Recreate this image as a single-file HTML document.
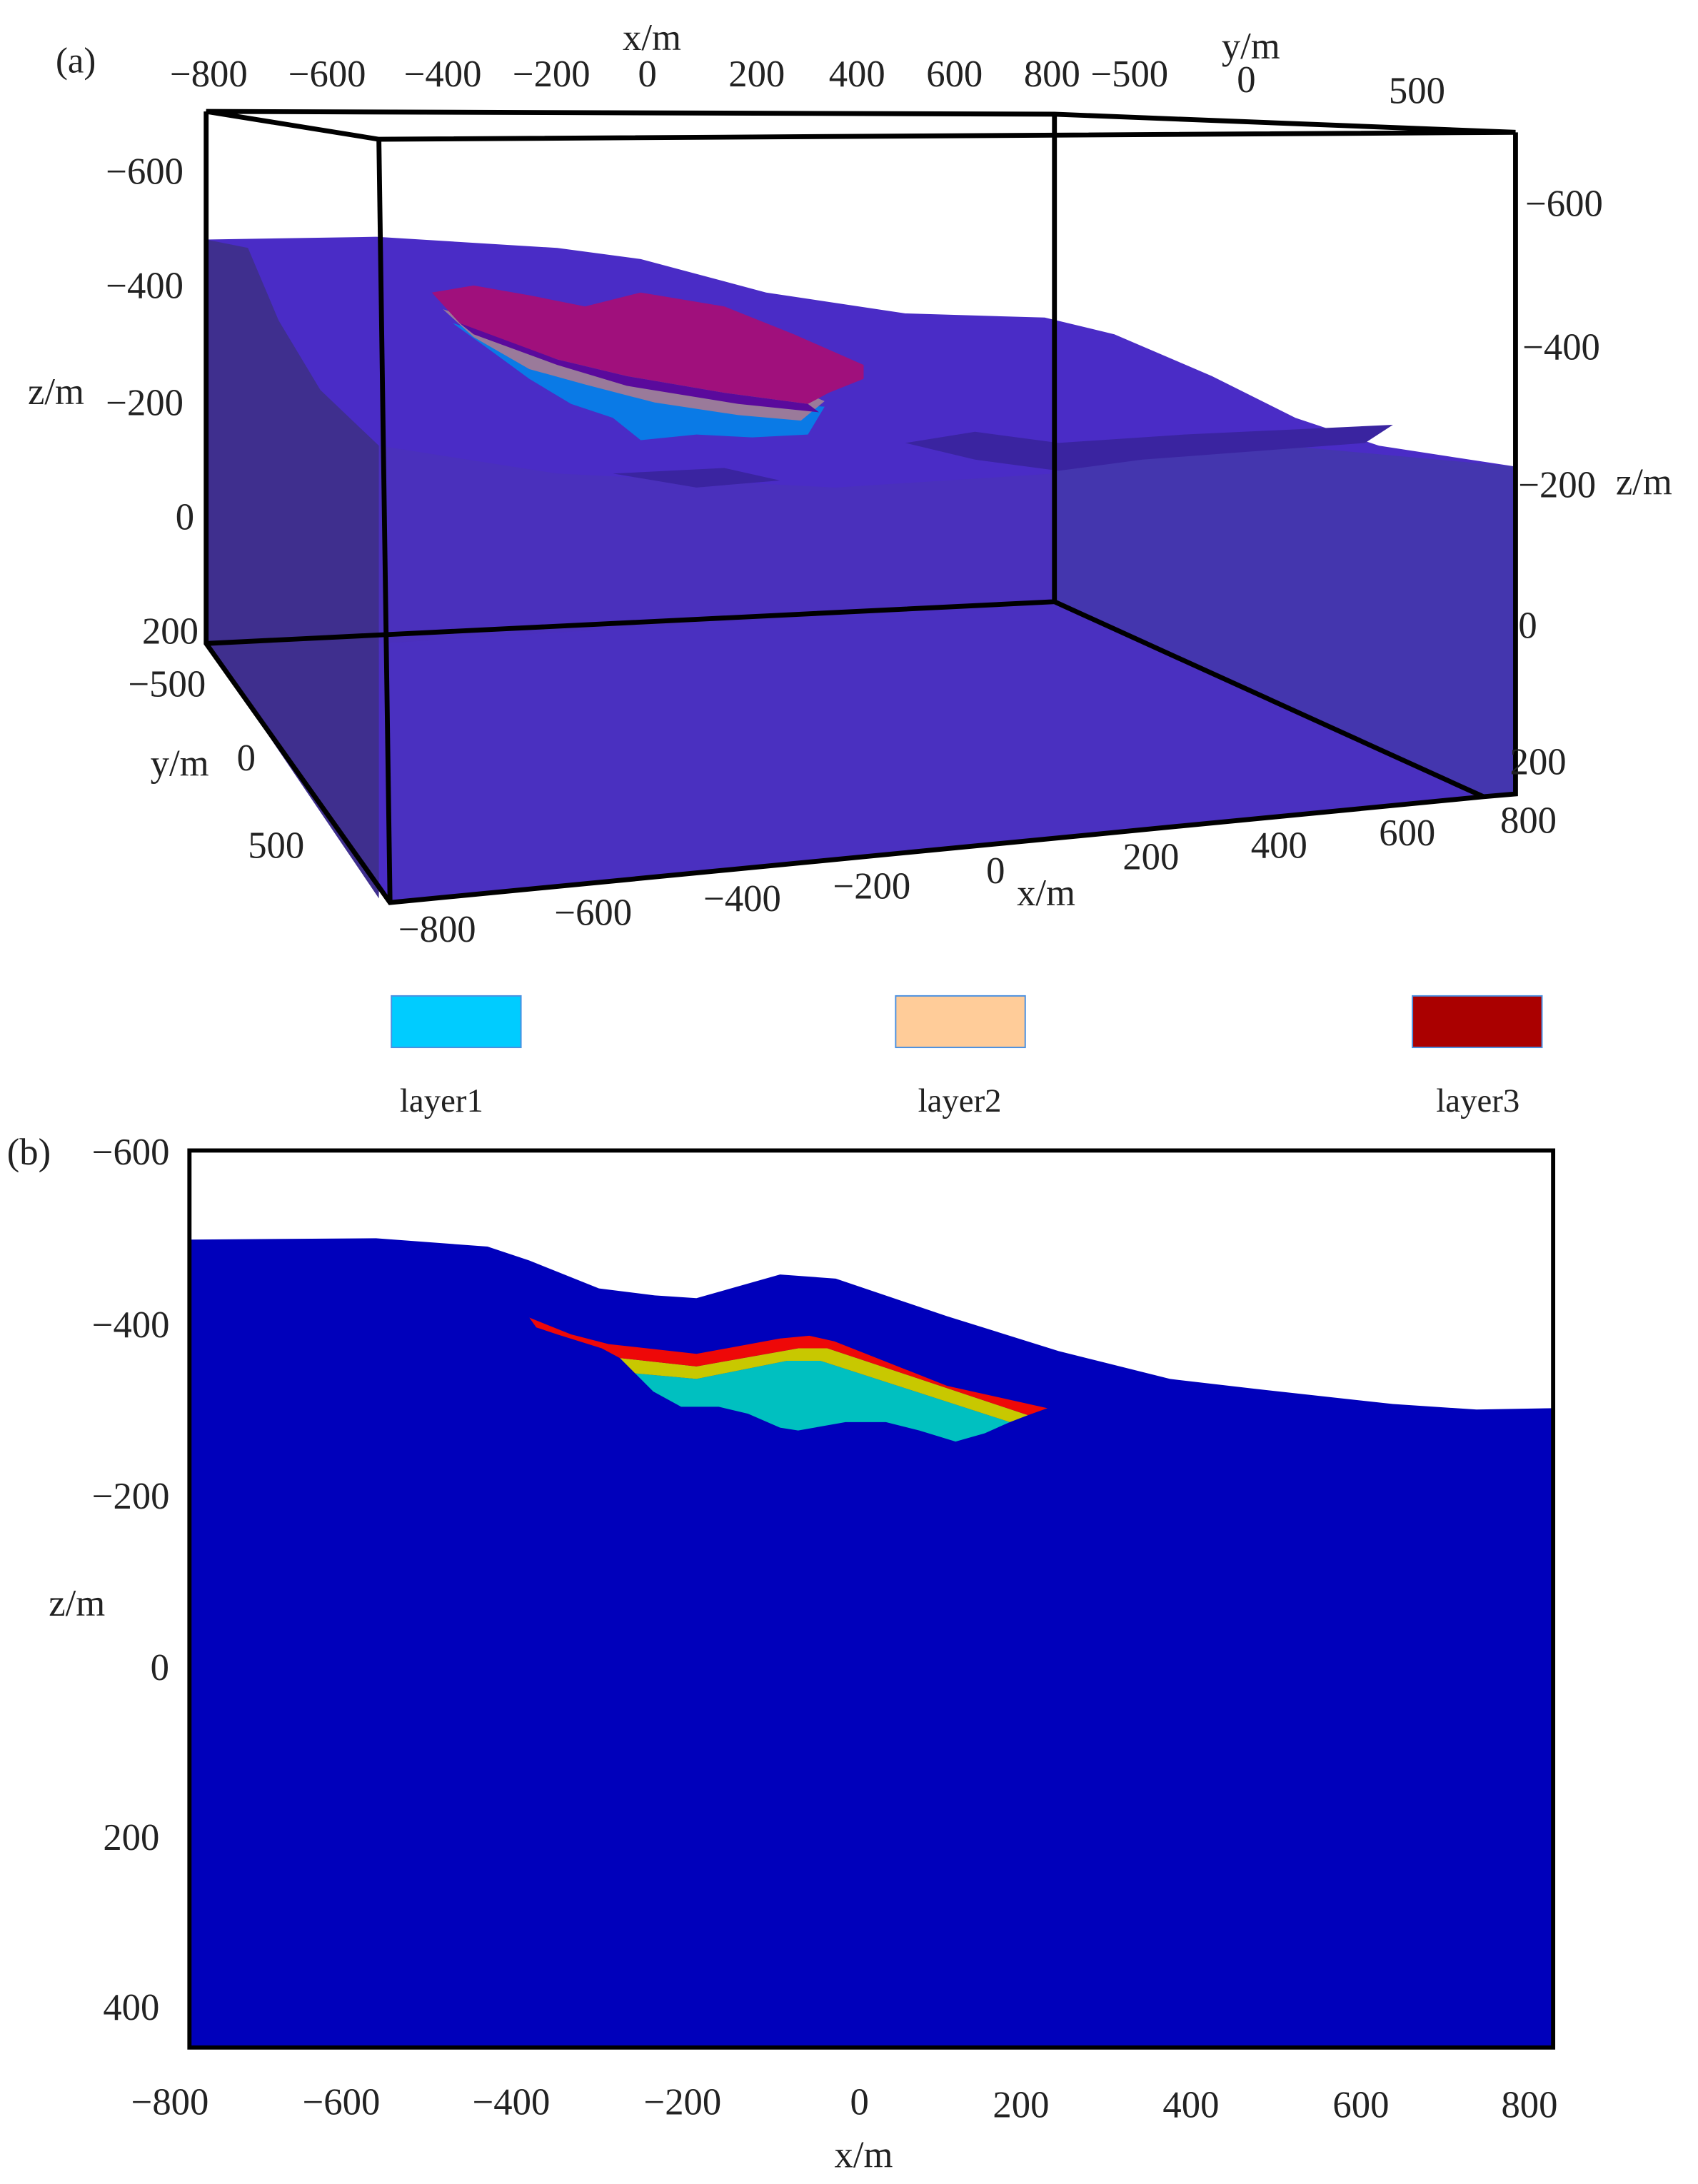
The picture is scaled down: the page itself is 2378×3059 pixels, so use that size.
<!DOCTYPE html>
<html><head><meta charset="utf-8"><style>
html,body{margin:0;padding:0;background:#fff}
svg{display:block}
text{font-family:"Liberation Serif",serif;fill:#222}
</style></head><body>
<svg width="2378" height="3059" viewBox="0 0 1219 1568" preserveAspectRatio="none" xmlns="http://www.w3.org/2000/svg">
<rect width="1219" height="1568" fill="#fff"/>
<!-- (a) -->
<g font-size="27">
<path d="M148,172 L270,170 L400,178 L460,186 L550,210 L650,225 L750,228 L800,240 L870,270 L930,300 L990,320 L1088,335 L1088,570 L1065,572 L280,648 L148,462 Z" fill="#4a2cc6"/>
<path d="M148,172 L178,178 L200,230 L230,280 L272,320 L272,645 L148,462 Z" fill="#3f2f8e"/>
<path d="M757,330 L800,320 L900,318 L1088,335 L1088,570 L1065,572 L757,432 Z" fill="#4436ae"/>
<path d="M272,462 L757,432 L1065,572 L280,648 Z" fill="#4a30c0"/>
<path d="M272,320 L400,340 L500,345 L600,350 L757,340 L757,432 L272,462 Z" fill="#4a30bc"/>
<path d="M650,318 L700,310 L760,318 L850,312 L1000,305 L980,318 L820,330 L760,338 L700,330 Z" fill="#3a24a0"/>
<path d="M440,340 L520,336 L560,345 L500,350 Z" fill="#3a24a0"/>
<path d="M325,232 L350,250 L380,272 L410,290 L440,300 L460,316 L500,312 L540,314 L580,312 L592,292 L560,290 L420,262 Z" fill="#0a7ae6"/>
<path d="M318,222 L340,242 L380,265 L420,276 L470,289 L530,298 L575,302 L592,288 L580,283 L480,272 L420,256 Z" fill="#9a7a9a"/>
<path d="M310,210 L340,205 L380,212 L420,220 L460,210 L520,220 L570,240 L620,262 L620,272 L595,282 L580,290 L520,282 L450,270 L400,258 L350,240 L330,232 Z" fill="#a0107c"/>
<path d="M330,232 L400,258 L450,270 L520,282 L580,290 L588,296 L530,290 L450,277 L400,262 L340,240 Z" fill="#5a0a9c"/>
<g stroke="#000" stroke-width="3.5" fill="none">
<path d="M148,80 L757,82 L1088,95 L272,100 Z"/>
<path d="M148,80 L148,462 L280,648 L1065,572 L1088,570 L1088,95"/>
<path d="M272,100 L280,648"/>
<path d="M757,82 L757,432 L148,462 M757,432 L1065,572"/>
</g>
<text x="40" y="52" font-size="26">(a)</text>
<text x="447" y="36">x/m</text>
<text x="122" y="62">−800</text><text x="207" y="62">−600</text><text x="290" y="62">−400</text><text x="368" y="62">−200</text><text x="458" y="62">0</text>
<text x="523" y="62">200</text><text x="595" y="62">400</text><text x="665" y="62">600</text><text x="735" y="62">800</text><text x="783" y="62">−500</text>
<text x="877" y="42">y/m</text><text x="888" y="66">0</text><text x="997" y="74">500</text>
<text x="76" y="132">−600</text><text x="76" y="214">−400</text><text x="76" y="298">−200</text><text x="126" y="380">0</text><text x="102" y="462">200</text>
<text x="20" y="290">z/m</text>
<text x="92" y="500">−500</text><text x="108" y="557">y/m</text><text x="170" y="553">0</text><text x="178" y="616">500</text>
<text x="1095" y="155">−600</text><text x="1093" y="258">−400</text><text x="1090" y="357">−200</text><text x="1160" y="355">z/m</text>
<text x="1090" y="458">0</text><text x="1084" y="556">200</text><text x="1077" y="598">800</text>
<text x="990" y="607">600</text><text x="898" y="616">400</text><text x="806" y="624">200</text><text x="708" y="634">0</text><text x="730" y="650">x/m</text>
<text x="598" y="645">−200</text><text x="505" y="654">−400</text><text x="398" y="664">−600</text><text x="286" y="676">−800</text>
</g>
<rect x="281" y="715" width="93" height="37" fill="#00ccff" stroke="#4a90e0"/>
<rect x="643" y="715" width="93" height="37" fill="#ffcc99" stroke="#4a90e0"/>
<rect x="1014" y="715" width="93" height="37" fill="#aa0000" stroke="#4a90e0"/>
<g font-size="24" text-anchor="middle"><text x="317" y="798">layer1</text><text x="689" y="798">layer2</text><text x="1061" y="798">layer3</text></g>
<!-- (b) -->
<path d="M136,890 L270,889 L350,895 L380,905 L430,925 L470,930 L500,932 L560,915 L600,918 L680,945 L760,970 L840,990 L900,997 L1000,1008 L1060,1012 L1115,1011 L1115,1470 L136,1470 Z" fill="#0000bb"/>
<path d="M456,986 L500,990 L565,977 L589,977 L725,1021 L707,1029 L686,1035 L660,1027 L636,1021 L607,1021 L573,1027 L560,1025 L537,1015 L516,1010 L489,1010 L469,999 Z" fill="#00c0c0"/>
<path d="M445,975 L500,981 L573,968 L594,968 L738,1016 L725,1021 L589,977 L565,977 L500,990 L456,986 Z" fill="#c8c800"/>
<path d="M380,946 L410,958 L437,965 L500,972 L560,961 L581,959 L599,963 L680,995 L752,1011 L738,1016 L594,968 L573,968 L500,981 L445,975 L432,968 L400,958 L385,953 Z" fill="#ee0808"/>
<rect x="136" y="826" width="979" height="644" fill="none" stroke="#000" stroke-width="3"/>
<g font-size="27">
<text x="5" y="836">(b)</text>
<text x="66" y="836">−600</text><text x="66" y="960">−400</text><text x="66" y="1083">−200</text><text x="108" y="1206">0</text>
<text x="74" y="1328">200</text><text x="74" y="1450">400</text><text x="35" y="1160">z/m</text>
<g text-anchor="middle">
<text x="122" y="1518">−800</text><text x="245" y="1518">−600</text><text x="367" y="1518">−400</text><text x="490" y="1518">−200</text><text x="617" y="1518">0</text>
<text x="733" y="1520">200</text><text x="855" y="1520">400</text><text x="977" y="1520">600</text><text x="1098" y="1520">800</text>
<text x="620" y="1556">x/m</text></g>
</g>
</svg>
</body></html>
